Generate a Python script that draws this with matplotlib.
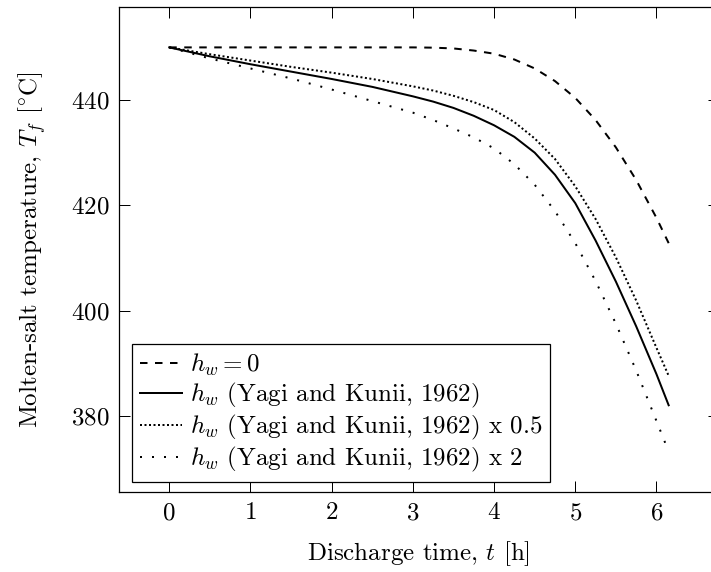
import matplotlib
matplotlib.use("Agg")
import matplotlib.pyplot as plt

# discharge time [h]
t = [0, 0.5, 1, 1.5, 2, 2.5, 3, 3.25, 3.5, 3.75, 4, 4.25, 4.5, 4.75,
     5, 5.25, 5.5, 5.75, 6, 6.15]

# molten-salt temperature [degC]
T_hw0 = [450, 450, 450, 450, 450, 450, 450, 449.95, 449.8, 449.4, 448.8,
         447.7, 446.0, 443.6, 440.4, 436.2, 431.0, 424.8, 417.6, 412.8]
T_yk = [450, 448.3, 446.8, 445.4, 444.0, 442.5, 440.7, 439.7, 438.5, 437.0,
        435.2, 433.0, 430.0, 425.8, 420.4, 413.3, 405.5, 397.0, 387.9, 382.0]
T_yk_half = [450, 448.7, 447.5, 446.3, 445.2, 444.0, 442.6, 441.8, 440.8,
             439.6, 438.1, 435.8, 432.7, 428.8, 423.6, 417.4, 410.1, 401.9,
             392.9, 387.6]
T_yk_double = [450, 447.9, 446.0, 444.1, 442.0, 439.8, 437.6, 436.2, 434.6,
               432.9, 430.8, 427.8, 423.9, 418.9, 412.8, 405.6, 397.5, 388.6,
               379.0, 373.2]

labels = [r"$h_w = 0$",
          r"$h_w$ (Yagi and Kunii, 1962)",
          r"$h_w$ (Yagi and Kunii, 1962) x 0.5",
          r"$h_w$ (Yagi and Kunii, 1962) x 2"]

plt.rcParams["font.family"] = "cmr10"
plt.rcParams["mathtext.fontset"] = "cm"
plt.rcParams["axes.formatter.use_mathtext"] = True
plt.rcParams["font.size"] = 10
plt.rcParams["lines.scale_dashes"] = False

fig = plt.figure(figsize=(711 / 180, 572 / 180), dpi=180)
ax = fig.add_axes([0.1678, 0.1399, 0.8429, 0.8479])

lw = 0.8
ax.plot(t, T_hw0, color="black", lw=lw, dashes=(3, 3), label=labels[0])
ax.plot(t, T_yk, color="black", lw=lw, label=labels[1])
ax.plot(t, T_yk_half, color="black", lw=lw, dashes=(0.8, 1.0), label=labels[2])
ax.plot(t, T_yk_double, color="black", lw=lw, dashes=(0.8, 4.0), label=labels[3])

# pgfplots style: enlarge limits by 10 %
xr = max(t) - min(t)
ax.set_xlim(min(t) - 0.1 * xr, max(t) + 0.1 * xr)
ymin = min(T_yk_double)
ymax = max(T_hw0)
yr = ymax - ymin
ax.set_ylim(ymin - 0.1 * yr, ymax + 0.1 * yr)

ax.set_xticks([0, 1, 2, 3, 4, 5, 6])
ax.set_yticks([380, 400, 420, 440])
ax.tick_params(direction="in", length=4.3, width=0.4, top=True, right=True,
               pad=4, labelsize=10)
for s in ax.spines.values():
    s.set_linewidth(0.5)

ax.set_xlabel(r"Discharge time, $t$ [h]", labelpad=6)
ax.set_ylabel(r"Molten-salt temperature, $T_f$ $[^{\circ}\mathrm{C}]$", labelpad=9)

leg = ax.legend(loc="lower left", bbox_to_anchor=(0.022, 0.021),
                borderaxespad=0, fancybox=False, framealpha=1,
                edgecolor="black", handlelength=1.7, handletextpad=0.3,
                borderpad=0.3, labelspacing=0.12)
leg.get_frame().set_linewidth(0.5)

fig.savefig("out.png", dpi=180)
